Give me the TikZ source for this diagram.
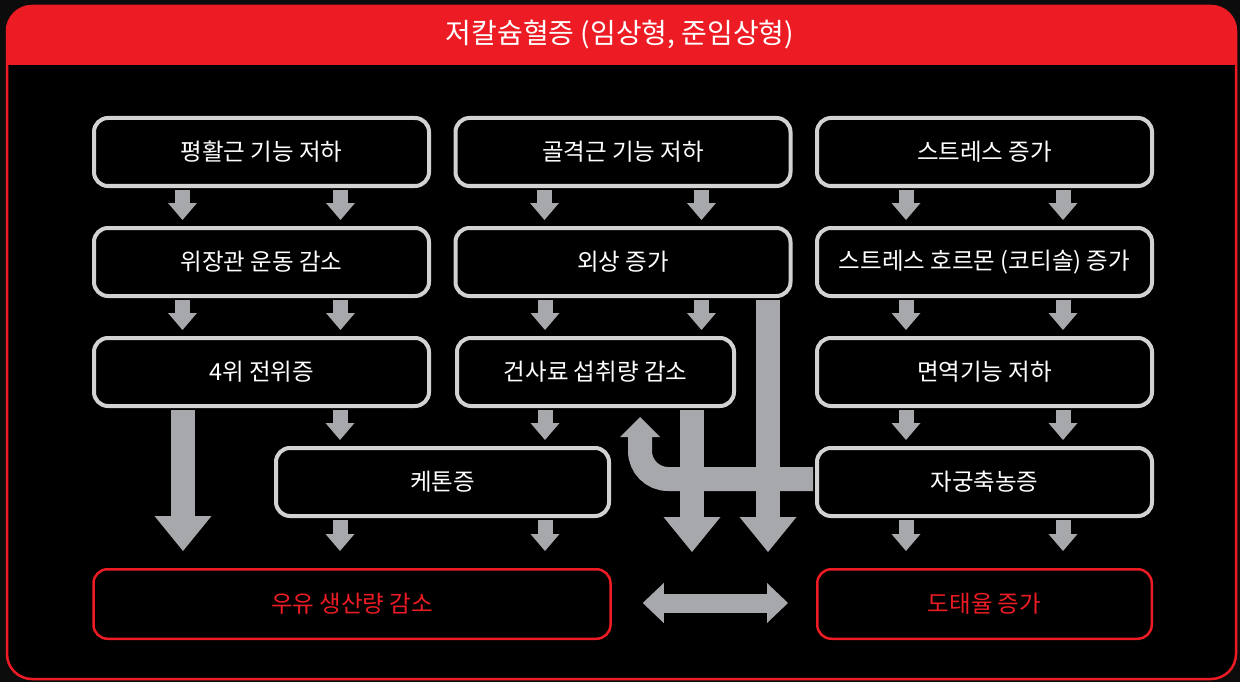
\documentclass[tikz,border=0pt]{standalone}
\usepackage{fontspec}
\setmainfont{Noto Sans CJK KR}
\usetikzlibrary{arrows.meta,calc}
\definecolor{bgc}{HTML}{0C0C0C}
\definecolor{redc}{HTML}{ED1C24}
\definecolor{boxline}{HTML}{D2D2D2}
\definecolor{arrowgray}{HTML}{A7A8AB}
\newcommand\smallconn[4]{\draw[smallarr] ($(#1.south)+(#3,2)$) -- ($(#2.north -| #1.south)+(#3,-#4)$);}
\begin{document}
\begin{tikzpicture}[x=1pt,y=-1pt,
  box/.style={draw=boxline, line width=4pt, rounded corners=14pt, minimum width=335pt, minimum height=68pt, text=white, font=\fontsize{23.5}{26}\selectfont, inner sep=0pt},
  redbox/.style={draw=redc, line width=2.5pt, rounded corners=14pt, minimum height=69.5pt, text=redc, font=\fontsize{23.5}{26}\selectfont, inner sep=0pt},
  smallarr/.style={draw=arrowgray, line width=15pt, -{Triangle[width=29pt,length=17pt,line width=0pt]}},
  bigarr/.style={draw=arrowgray, line width=24pt, -{Triangle[width=57pt,length=35pt,line width=0pt]}},
  curvarr/.style={draw=arrowgray, line width=24pt, rounded corners=28pt, -{Triangle[width=40pt,length=20pt,line width=0pt]}},
  dblarr/.style={draw=arrowgray, line width=19pt, {Triangle[width=40pt,length=21pt,line width=0pt]}-{Triangle[width=40pt,length=21pt,line width=0pt]}}
]
\useasboundingbox (0,0) rectangle (1240,682);
\fill[bgc] (0,0) rectangle (1240,682);
% frame
\fill[black, rounded corners=25pt] (7,6) rectangle (1236,679);
\begin{scope}
  \clip (0,0) rectangle (1240,65);
  \fill[redc, rounded corners=25pt] (7,6) rectangle (1236,140);
\end{scope}
\draw[redc, line width=2.5pt, rounded corners=25pt] (7,6) rectangle (1236,679);
\node[text=white, font=\fontsize{28}{32}\selectfont, inner sep=0pt] (title) at (620,35) {저칼슘혈증 (임상형, 준임상형)};

% boxes
\node[box] (smooth) at (261.5,152) {평활근 기능 저하};
\node[box] (skeletal) at (623,152) {골격근 기능 저하};
\node[box] (stress) at (984.5,152) {스트레스 증가};
\node[box] (gi) at (261.5,262) {위장관 운동 감소};
\node[box] (trauma) at (623,262) {외상 증가};
\node[box] (hormone) at (984.5,262) {스트레스 호르몬 (코티솔) 증가};
\node[box] (lda) at (261.5,372) {4위 전위증};
\node[box, minimum width=277pt] (feed) at (595.5,372) {건사료 섭취량 감소};
\node[box] (immune) at (984.5,372) {면역기능 저하};
\node[box, minimum width=333pt] (ketosis) at (442.5,482) {케톤증};
\node[box] (pyo) at (984.5,482) {자궁축농증};
\node[redbox, minimum width=517pt] (milk) at (352,604) {우유 생산량 감소};
\node[redbox, minimum width=334.5pt] (cull) at (984.5,604) {도태율 증가};

\coordinate (tipA) at (692,552);
\coordinate (tipB) at (768,552);

% small arrows
\smallconn{smooth}{gi}{-79}{6}
\smallconn{smooth}{gi}{79}{6}
\smallconn{skeletal}{trauma}{-78.5}{6}
\smallconn{skeletal}{trauma}{78.5}{6}
\smallconn{stress}{hormone}{-78.5}{6}
\smallconn{stress}{hormone}{78.5}{6}
\smallconn{gi}{lda}{-79}{6}
\smallconn{gi}{lda}{79}{6}
\smallconn{trauma}{feed}{-78}{6}
\smallconn{trauma}{feed}{78.5}{6}
\smallconn{hormone}{immune}{-78.5}{6}
\smallconn{hormone}{immune}{78.5}{6}
\smallconn{immune}{pyo}{-78.5}{6}
\smallconn{immune}{pyo}{78.5}{6}
\smallconn{lda}{ketosis}{78.5}{6}
\smallconn{feed}{ketosis}{-50.5}{6}
\smallconn{ketosis}{milk}{-102.5}{17}
\smallconn{ketosis}{milk}{102.5}{17}
\smallconn{pyo}{cull}{-78.5}{17}
\smallconn{pyo}{cull}{78.5}{17}

% big arrows
\draw[bigarr] ($(lda.south)+(-78.5,2)$) -- ($(milk.north -| lda.south)+(-78.5,-17)$);
\draw[bigarr] ($(feed.south)+(96.5,2)$) -- (tipA);
\draw[bigarr] ($(trauma.south)+(145,2)$) -- (tipB);
\draw[curvarr] ($(pyo.west)+(-2,-3)$) -| ($(feed.south)+(44.5,9)$);
\draw[dblarr] ($(milk.east)+(31,-1)$) -- ($(cull.west)+(-28,-1)$);
\end{tikzpicture}
\end{document}
